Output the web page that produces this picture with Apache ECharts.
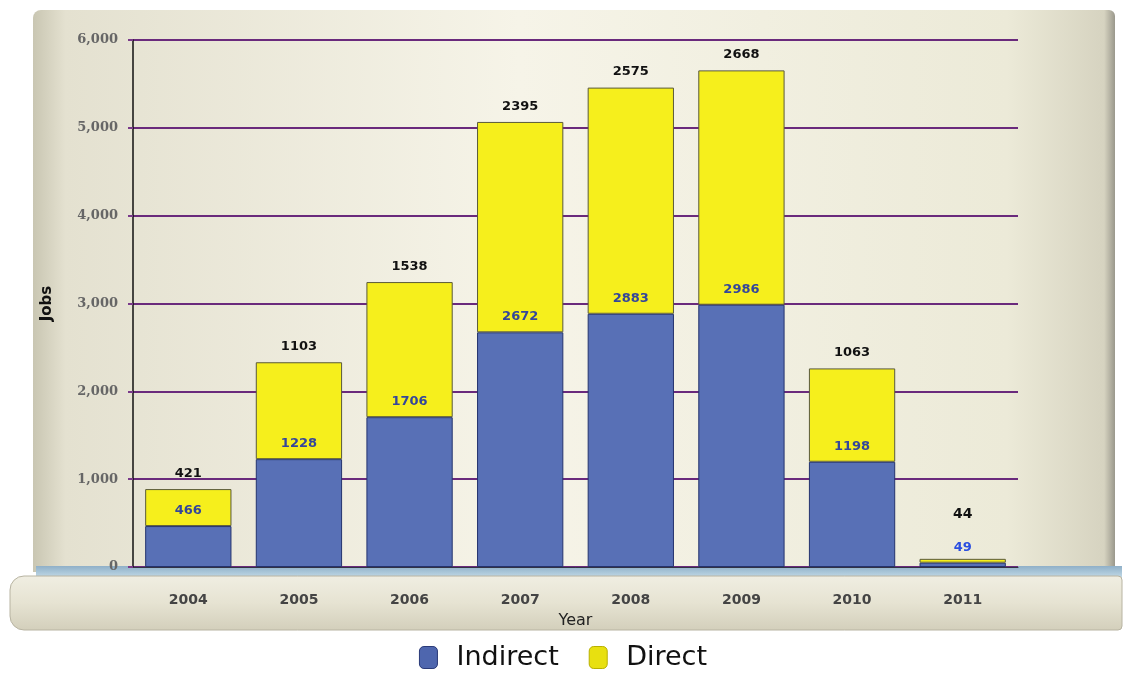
<!DOCTYPE html>
<html>
<head>
<meta charset="utf-8">
<script src="https://cdn.jsdelivr.net/npm/echarts@6/dist/echarts.min.js"></script>
<style>
html,body{margin:0;padding:0;background:#fff;}
#chart{width:1126px;height:677px;}
</style>
</head>
<body>
<div id="chart"></div>
<script>
const years = ['2004','2005','2006','2007','2008','2009','2010','2011'];
const indirect = [466, 1228, 1706, 2672, 2883, 2986, 1198, 49];
const direct = [421, 1103, 1538, 2395, 2575, 2668, 1063, 44];
const yTicks = [0, 1000, 2000, 3000, 4000, 5000, 6000];

// lift the top label when the Direct segment is too thin to separate the two labels
const directData = direct.map(v => v < 150 ? { value: v, label: { offset: [0, -28], fontSize: 14 } } : v);
const indirectData = indirect.map(v => v < 150 ? { value: v, label: { color: '#2a4ee0' } } : v);

const chart = echarts.init(document.getElementById('chart'));
const option = {
  backgroundColor: '#ffffff',
  animation: false,
  graphic: [
    { type: 'rect', z: -10, shape: { x: 33, y: 10, width: 1082, height: 562, r: [8, 6, 0, 0] },
      style: { fill: new echarts.graphic.LinearGradient(0, 0, 1, 0, [
        { offset: 0, color: '#c9c6b2' }, { offset: 0.03, color: '#e4e1d0' },
        { offset: 0.45, color: '#f6f4e8' }, { offset: 0.9, color: '#ecead8' },
        { offset: 0.99, color: '#d6d3c0' }, { offset: 1, color: '#9a988c' }]) } },
    { type: 'rect', z: -9, shape: { x: 36, y: 566, width: 1086, height: 12 },
      style: { fill: new echarts.graphic.LinearGradient(0, 0, 0, 1, [
        { offset: 0, color: '#8fb0c8' }, { offset: 1, color: '#c4dbe8' }]) } },
    { type: 'rect', z: -9, shape: { x: 10, y: 576, width: 1112, height: 54, r: [14, 4, 4, 14] },
      style: { fill: new echarts.graphic.LinearGradient(0, 0, 0, 1, [
        { offset: 0, color: '#f0eee2' }, { offset: 0.5, color: '#e6e3d2' }, { offset: 1, color: '#d3cfbb' }]),
        stroke: '#b8b4a2', lineWidth: 1 } }
  ],
  grid: { left: 133, right: 108, top: 40, bottom: 110, containLabel: false },
  legend: {
    bottom: 1, left: 'center', itemWidth: 18, itemHeight: 22, itemGap: 30,
    textStyle: { fontFamily: 'DejaVu Sans', fontSize: 27, color: '#111', padding: [0, 0, 0, 14] },
    data: [
      { name: 'Indirect', icon: 'roundRect', itemStyle: { color: '#4e66ae', borderColor: '#2a3a78', borderWidth: 1 } },
      { name: 'Direct', icon: 'roundRect', itemStyle: { color: '#e8e010', borderColor: '#b8b000', borderWidth: 1 } }
    ]
  },
  xAxis: {
    type: 'category', data: years,
    name: 'Year', nameLocation: 'middle', nameGap: 46,
    nameTextStyle: { fontFamily: 'DejaVu Sans', fontSize: 16, color: '#222' },
    axisLine: { show: true, lineStyle: { color: '#334', width: 1 } },
    axisTick: { show: false },
    axisLabel: { margin: 26, fontFamily: 'DejaVu Sans', fontSize: 14, color: '#444', fontWeight: 'bold' }
  },
  yAxis: {
    type: 'value', min: 0, max: 6000, interval: 1000,
    name: 'Jobs', nameLocation: 'middle', nameGap: 78,
    nameTextStyle: { fontFamily: 'DejaVu Sans', fontSize: 15, color: '#111', fontWeight: 'bold' },
    axisLine: { show: true, lineStyle: { color: '#111', width: 1.5 } },
    axisTick: { show: true, length: 5, lineStyle: { color: '#7a3a8a', width: 2 } },
    axisLabel: { margin: 15, fontFamily: 'DejaVu Serif', fontSize: 13, color: '#666', fontWeight: 'bold',
      formatter: v => yTicks.includes(v) ? v.toLocaleString('en-US') : '' },
    splitLine: { show: true, lineStyle: { color: '#6a2a7c', width: 2 } }
  },
  series: [
    { name: 'Indirect', type: 'bar', stack: 'jobs', barWidth: '78%', data: indirectData,
      itemStyle: { color: '#5870b6', borderColor: '#24336e', borderWidth: 1 },
      label: { show: true, position: 'top', distance: 9, fontFamily: 'DejaVu Sans', fontSize: 13, fontWeight: 'bold', color: '#34469a' } },
    { name: 'Direct', type: 'bar', stack: 'jobs', barWidth: '78%', data: directData,
      itemStyle: { color: '#f6ef1c', borderColor: '#5a5a3a', borderWidth: 1 },
      label: { show: true, position: 'top', distance: 9, fontFamily: 'DejaVu Sans', fontSize: 13, fontWeight: 'bold', color: '#111' } }
  ]
};
chart.setOption(option);
</script>
</body>
</html>
